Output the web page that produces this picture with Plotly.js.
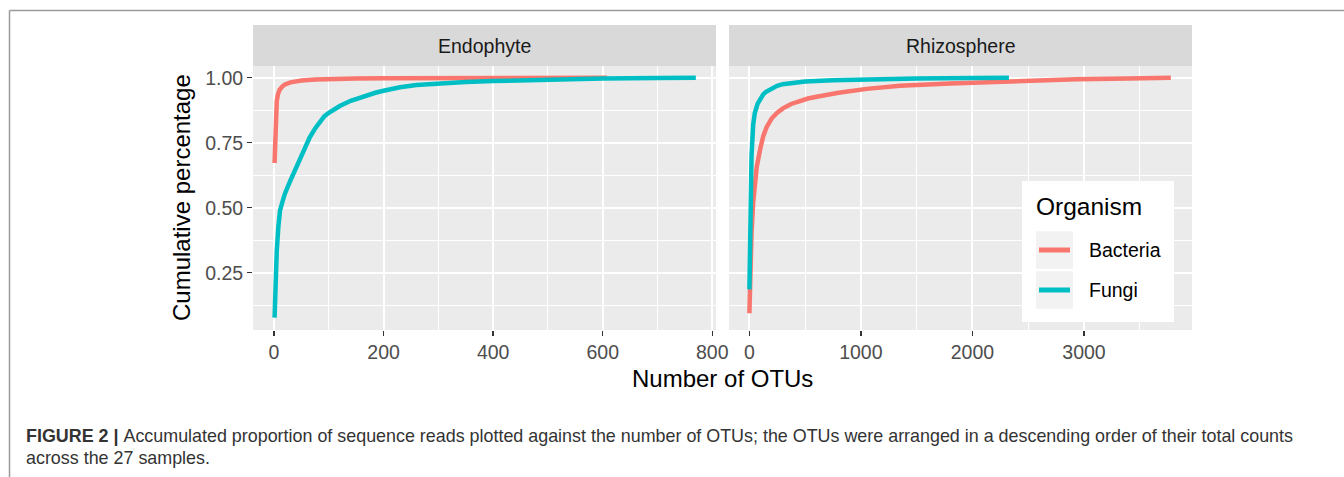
<!DOCTYPE html>
<html>
<head>
<meta charset="utf-8">
<script src="https://cdn.plot.ly/plotly-3.0.1.min.js"></script>
<style>
html,body{margin:0;padding:0;background:#fff;}
#chart{width:1344px;height:477px;}
</style>
</head>
<body>
<div id="chart"></div>
<script>
// ---- Data ----
const panels = ["Endophyte", "Rhizosphere"];
const organisms = ["Bacteria", "Fungi"];

const endoBactOTU = [1, 2, 3, 4, 5, 7, 10, 15, 20, 30, 50, 75, 100, 150, 200, 300, 400, 500, 608];
const endoBactCum = [0.672, 0.76, 0.83, 0.88, 0.91, 0.935, 0.953, 0.966, 0.974, 0.982, 0.989, 0.993, 0.995, 0.997, 0.998, 0.999, 0.9995, 0.9998, 1.0];

const endoFungOTU = [1, 2, 3, 5, 8, 11, 15, 20, 30, 40, 53, 65, 75, 84, 92, 100, 108, 120, 140, 160, 185, 200, 215, 230, 260, 300, 350, 400, 500, 600, 700, 770];
const endoFungCum = [0.077, 0.15, 0.22, 0.335, 0.43, 0.49, 0.52, 0.555, 0.605, 0.655, 0.72, 0.77, 0.805, 0.834, 0.852, 0.865, 0.876, 0.891, 0.911, 0.926, 0.942, 0.95, 0.957, 0.963, 0.972, 0.978, 0.983, 0.987, 0.993, 0.997, 0.999, 1.0];

const rhizoBactOTU = [1, 5, 10, 20, 35, 50, 66, 100, 125, 155, 200, 250, 305, 375, 450, 525, 604, 700, 800, 1052, 1350, 1800, 2363, 2933, 3400, 3778];
const rhizoBactCum = [0.094, 0.20, 0.28, 0.40, 0.52, 0.60, 0.655, 0.73, 0.775, 0.81, 0.843, 0.865, 0.883, 0.899, 0.911, 0.92, 0.927, 0.935, 0.942, 0.957, 0.969, 0.978, 0.987, 0.994, 0.997, 1.0];

const rhizoFungOTU = [1, 5, 10, 20, 35, 50, 75, 100, 125, 150, 200, 250, 300, 400, 500, 750, 1000, 1500, 2000, 2327];
const rhizoFungCum = [0.186, 0.36, 0.52, 0.70, 0.82, 0.865, 0.90, 0.922, 0.936, 0.946, 0.96, 0.969, 0.975, 0.981, 0.985, 0.99, 0.993, 0.997, 0.999, 1.0];

const endoTicks = [0, 200, 400, 600, 800];
const rhizoTicks = [0, 1000, 2000, 3000];
const yTicks = [0.25, 0.50, 0.75, 1.00];
const yTickText = ["0.25", "0.50", "0.75", "1.00"];

const xTitle = "Number of OTUs";
const yTitle = "Cumulative percentage";
const legendTitle = "Organism";
const captionBold = "FIGURE 2 |";
const captionLine1 = "&nbsp;Accumulated proportion of sequence reads plotted against the number of OTUs; the OTUs were arranged in a descending order of their total counts";
const captionLine2 = "across the 27 samples.";

const colors = {Bacteria: "#F8766D", Fungi: "#00BFC4"};

// ---- Geometry helpers (pixel -> paper) ----
const L = 253, R = 1192, T = 66, B = 330, W = 1344, H = 477;
const px = p => (p - L) / (R - L);
const py = p => (B - p) / (B - T);

const FONT = "'Liberation Sans', Arial, Helvetica, sans-serif";
const LW = 4.5;

function lineTrace(x, y, org, xa, ya) {
  return {x: x, y: y, type: "scatter", mode: "lines", name: org,
    xaxis: xa, yaxis: ya, showlegend: false, hoverinfo: "skip",
    line: {color: colors[org], width: LW, shape: "linear"}};
}

const data = [
  lineTrace(endoBactOTU, endoBactCum, "Bacteria", "x", "y"),
  lineTrace(endoFungOTU, endoFungCum, "Fungi", "x", "y"),
  lineTrace(rhizoBactOTU, rhizoBactCum, "Bacteria", "x2", "y2"),
  lineTrace(rhizoFungOTU, rhizoFungCum, "Fungi", "x2", "y2")
];

const tickFont = {family: FONT, size: 19.5, color: "#4D4D4D"};
function xAxis(domain, range, ticks, minorD, anchor) {
  return {domain: domain, range: range, anchor: anchor,
    tickmode: "array", tickvals: ticks, ticktext: ticks.map(String),
    ticks: "outside", ticklen: 5, tickwidth: 1.5, tickcolor: "#333333",
    tickfont: tickFont, showgrid: true, gridcolor: "#FFFFFF", gridwidth: 2,
    minor: {tick0: minorD, dtick: minorD * 2, showgrid: true, gridcolor: "#FFFFFF", gridwidth: 1, ticks: ""},
    zeroline: false, showline: false, fixedrange: true};
}

const yRange = [0.0296, 1.045];
const layout = {
  width: W, height: H,
  margin: {l: L, r: W - R, t: T, b: H - B, pad: 0},
  paper_bgcolor: "#FFFFFF", plot_bgcolor: "#EBEBEB",
  showlegend: false,
  font: {family: FONT, color: "#000000"},
  xaxis: xAxis([0, px(716)], [-38.4, 806.8], endoTicks, 100, "y"),
  xaxis2: xAxis([px(729), 1], [-181.9, 3967.8], rhizoTicks, 500, "y2"),
  yaxis: {domain: [0, 1], range: yRange, anchor: "x",
    tickmode: "array", tickvals: yTicks, ticktext: yTickText,
    ticks: "outside", ticklen: 5, tickwidth: 1.5, tickcolor: "#333333",
    tickfont: tickFont, showgrid: true, gridcolor: "#FFFFFF", gridwidth: 2,
    minor: {tick0: 0.125, dtick: 0.25, showgrid: true, gridcolor: "#FFFFFF", gridwidth: 1, ticks: ""},
    zeroline: false, showline: false, fixedrange: true},
  yaxis2: {domain: [0, 1], range: yRange, anchor: "x2",
    tickmode: "array", tickvals: yTicks, showticklabels: false, ticks: "",
    showgrid: true, gridcolor: "#FFFFFF", gridwidth: 2,
    minor: {tick0: 0.125, dtick: 0.25, showgrid: true, gridcolor: "#FFFFFF", gridwidth: 1, ticks: ""},
    zeroline: false, showline: false, fixedrange: true},
  shapes: [],
  annotations: []
};

// figure frame (top and left rules)
layout.shapes.push({type: "line", xref: "paper", yref: "paper", x0: px(9.5), x1: px(1344), y0: py(10.5), y1: py(10.5), line: {color: "#9A9A9A", width: 1.5}});
layout.shapes.push({type: "line", xref: "paper", yref: "paper", x0: px(9.5), x1: px(9.5), y0: py(10.5), y1: py(477), line: {color: "#9A9A9A", width: 1.5}});

// facet strips
const stripX = [[253, 716], [729, 1192]];
panels.forEach((p, i) => {
  layout.shapes.push({type: "rect", xref: "paper", yref: "paper", x0: px(stripX[i][0]), x1: px(stripX[i][1]), y0: py(66), y1: py(25), fillcolor: "#D9D9D9", line: {width: 0}, layer: "below"});
  layout.annotations.push({xref: "paper", yref: "paper", x: px((stripX[i][0] + stripX[i][1]) / 2), y: py(46), text: p, showarrow: false, xanchor: "center", yanchor: "middle", font: {family: FONT, size: 19.5, color: "#1A1A1A"}});
});

// axis titles
layout.annotations.push({xref: "paper", yref: "paper", x: px(722.5), y: py(378), text: xTitle, showarrow: false, xanchor: "center", yanchor: "middle", font: {family: FONT, size: 24, color: "#000000"}});
layout.annotations.push({xref: "paper", yref: "paper", x: px(181), y: py(198), text: yTitle, textangle: -90, showarrow: false, xanchor: "center", yanchor: "middle", font: {family: FONT, size: 24, color: "#000000"}});

// legend (drawn inside the Rhizosphere panel)
layout.shapes.push({type: "rect", xref: "paper", yref: "paper", x0: px(1022), x1: px(1174), y0: py(322), y1: py(181), fillcolor: "#FFFFFF", line: {width: 0}, layer: "above"});
layout.annotations.push({xref: "paper", yref: "paper", x: px(1034), y: py(206), text: legendTitle, showarrow: false, xanchor: "left", yanchor: "middle", font: {family: FONT, size: 24.5, color: "#000000"}});
const keyY = [250, 290];
organisms.forEach((o, i) => {
  const cy = keyY[i];
  layout.shapes.push({type: "rect", xref: "paper", yref: "paper", x0: px(1036), x1: px(1073), y0: py(cy + 18.7), y1: py(cy - 18.7), fillcolor: "#F2F2F2", line: {width: 0}, layer: "above"});
  layout.shapes.push({type: "line", xref: "paper", yref: "paper", x0: px(1039), x1: px(1070), y0: py(cy), y1: py(cy), line: {color: colors[o], width: 5}, layer: "above"});
  layout.annotations.push({xref: "paper", yref: "paper", x: px(1087), y: py(cy), text: o, showarrow: false, xanchor: "left", yanchor: "middle", font: {family: FONT, size: 19.5, color: "#000000"}});
});

// caption
layout.annotations.push({xref: "paper", yref: "paper", x: px(24), y: py(436), text: "<b>" + captionBold + "</b>" + captionLine1, showarrow: false, xanchor: "left", yanchor: "middle", font: {family: FONT, size: 17.9, color: "#333333"}});
layout.annotations.push({xref: "paper", yref: "paper", x: px(24), y: py(458), text: captionLine2, showarrow: false, xanchor: "left", yanchor: "middle", font: {family: FONT, size: 17.9, color: "#333333"}});

Plotly.newPlot("chart", data, layout, {staticPlot: true, displayModeBar: false});
</script>
</body>
</html>
